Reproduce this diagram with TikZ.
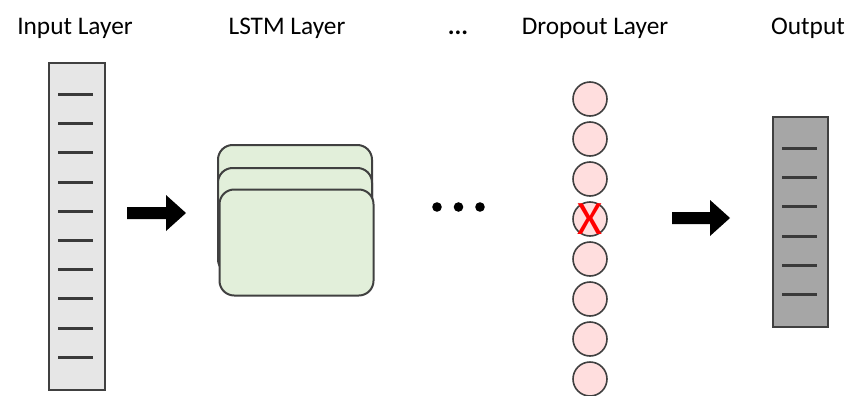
\documentclass[tikz,border=0pt]{standalone}
\usepackage{fontspec}
\setmainfont{Carlito}
\definecolor{inputgray}{RGB}{230,230,230}
\definecolor{outputgray}{RGB}{166,166,166}
\definecolor{lstmgreen}{RGB}{226,239,218}
\definecolor{droppink}{RGB}{255,222,222}
\definecolor{edgegray}{RGB}{64,64,64}

\tikzset{
  layerbar/.style={draw=edgegray, line width=1.5pt, inner sep=0pt, outer sep=0pt},
  cellbox/.style={draw=edgegray, line width=1.5pt, fill=lstmgreen, rounded corners=11pt,
    minimum width=115.5pt, minimum height=79.5pt, inner sep=0pt},
  dropunit/.style={circle, draw=edgegray, line width=1.2pt, fill=droppink,
    minimum size=25.5pt, inner sep=0pt},
  valueline/.style={edgegray!90!black, line width=1.6pt},
  header/.style={anchor=base, font=\fontsize{19}{21}\selectfont},
}

\begin{document}
\begin{tikzpicture}[x=0.75pt, y=-0.75pt]
\useasboundingbox (0,0) rectangle (853,396);

% ── Block arrow: #1 = tail x, #2 = tip x, #3 = centre y ──────────────
\newcommand{\blockarrow}[3]{%
  \pgfmathsetmacro{\neck}{#2-20}%
  \fill[black] (#1,#3-6) -- (\neck,#3-6) -- (\neck,#3-18) -- (#2,#3)
    -- (\neck,#3+18) -- (\neck,#3+6) -- (#1,#3+6) -- cycle;
}

% ── Headers ──────────────────────────────────────────────────────────
\node[header] (hIn)   at (75,34)  {Input Layer};
\node[header] (hLstm) at (287,34) {LSTM Layer};
\node[header] (hDots) at (458,34) {\textbf{...}};
\node[header] (hDrop) at (595,34) {Dropout Layer};
\node[header] (hOut)  at (808,34) {Output};

% ── Input layer ──────────────────────────────────────────────────────
\node[layerbar, fill=inputgray, minimum width=42pt, minimum height=245.25pt]
  (input) at (77,226.5) {};
\foreach \k in {0,...,9} {
  \pgfmathsetmacro{\ypos}{round(94+\k*29.2)+0.5}
  \draw[valueline] (58,\ypos) -- (93,\ypos);
}

\blockarrow{127}{186}{213}

% ── LSTM layer (three stacked cells) ─────────────────────────────────
\node[cellbox] (lstmA) at (295,198)   {};
\node[cellbox] (lstmB) at (295,221)   {};
\node[cellbox] (lstmC) at (296.5,242.5) {};

% ellipsis between layers
\foreach \xpos in {437, 458.5, 480}
  \fill[black] (\xpos,207) circle (4.8);

% ── Dropout layer ────────────────────────────────────────────────────
\foreach \i in {1,...,8} {
  \pgfmathsetmacro{\ypos}{99+(\i-1)*40}
  \node[dropunit] (drop\i) at (590,\ypos) {};
}
% dropped unit
\node[text=red, font=\fontsize{36}{36}\selectfont, inner sep=0pt] (dropX) at (drop4) {X};

\blockarrow{672}{730}{218}

% ── Output layer ─────────────────────────────────────────────────────
\node[layerbar, fill=outputgray, minimum width=41.25pt, minimum height=157.5pt]
  (output) at (800.5,222) {};
\foreach \k in {0,...,5} {
  \pgfmathsetmacro{\ypos}{round(148+\k*29.2)+0.5}
  \draw[valueline] (782,\ypos) -- (817,\ypos);
}

\end{tikzpicture}
\end{document}
